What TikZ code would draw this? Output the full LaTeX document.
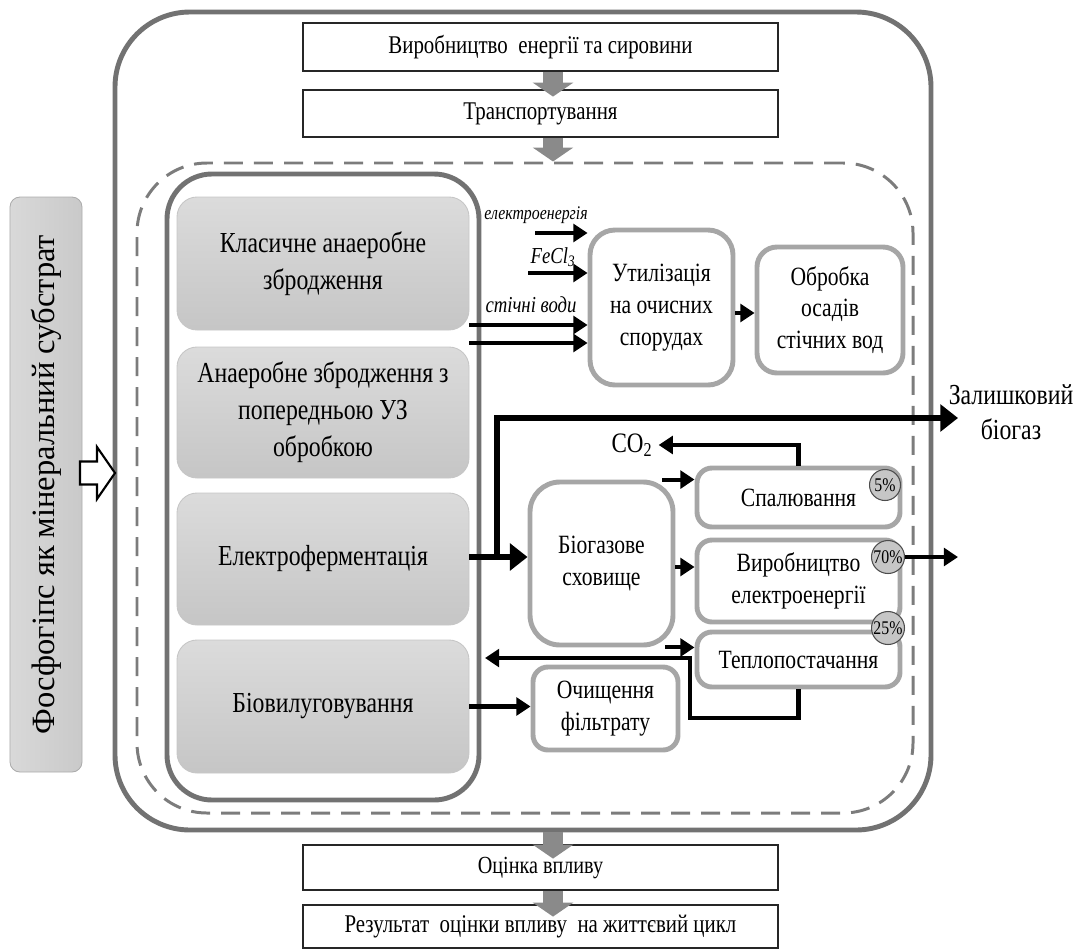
\documentclass[tikz,border=0pt]{standalone}
\usepackage{fontspec}
\setmainfont{Liberation Serif}
\newfontfamily\narrowserif{Liberation Serif}[FakeStretch=0.82]
\usetikzlibrary{arrows.meta}

\definecolor{framegray}{HTML}{727272}
\definecolor{dashgray}{HTML}{7C7C7C}
\definecolor{unitgray}{HTML}{A6A6A6}
\definecolor{stagegray}{HTML}{8A8A8A}

\begin{document}
\begin{tikzpicture}[
  bigframe/.style={draw=framegray, line width=2.8pt, rounded corners=1.5cm},
  stage/.style={draw=black!85, line width=1.6pt, fill=white, minimum width=9.5cm, font=\narrowserif\fontsize{14.5}{17}\selectfont},
  process/.style={draw=gray!45, line width=0.5pt, top color=gray!28, bottom color=gray!45, rounded corners=0.4cm, minimum width=5.84cm, align=center, font=\narrowserif\fontsize{16.5}{21}\selectfont},
  unitbox/.style={draw=unitgray, line width=2.8pt, fill=white, rounded corners=0.4cm, align=center, font=\narrowserif\fontsize{15}{18}\selectfont},
  share/.style={circle, draw=black!70, line width=0.6pt, fill=gray!45, minimum size=0.62cm, inner sep=0pt, font=\narrowserif\fontsize{11}{11}\selectfont},
  flow/.style={line width=2.3pt, -{Triangle[length=8pt, width=10pt]}},
  mainflow/.style={line width=3.4pt, -{Triangle[length=10pt, width=15pt]}},
  stagearrow/.style={color=stagegray, line width=0.4cm, -{Triangle[length=0.28cm, width=0.8cm]}},
  inlabel/.style={font=\narrowserif\itshape\fontsize{13}{13}\selectfont}
]
\useasboundingbox (0, 0) rectangle (21.68, -19.02);

% life cycle frame, plant frame and digestion block
\node[bigframe, minimum width=16.32cm, minimum height=16.36cm] (lca frame) at (10.46, -8.42) {};
\node[bigframe, draw=dashgray, line width=1.7pt, dash pattern=on 0.38cm off 0.22cm, rounded corners=1.4cm, minimum width=15.52cm, minimum height=13cm] (plant frame) at (10.5, -9.76) {};
\node[bigframe, rounded corners=0.9cm, minimum width=6.24cm, minimum height=12.52cm] (digestion) at (6.46, -9.74) {};

% stages before and after
\node[stage, minimum height=0.96cm] (energy) at (10.81, -0.94) {Виробництво\ \ енергії та сировини};
\node[stage, minimum height=0.94cm] (transport) at (10.81, -2.27) {Транспортування};
\node[stage, minimum height=0.9cm, font=\narrowserif\fontsize{14}{17}\selectfont] (impact) at (10.81, -17.35) {Оцінка впливу};
\node[stage, minimum height=0.86cm] (result) at (10.81, -18.53) {Результат\ \ оцінки впливу\ \ на життєвий цикл};

\coordinate (axis) at (11.06, 0);
\draw[stagearrow] (energy.south -| axis) -- ([yshift=-0.16cm]transport.north -| axis);
\draw[stagearrow] (transport.south -| axis) -- (plant frame.north -| axis);
\draw[stagearrow] (lca frame.south -| axis) -- ([yshift=-0.3cm]impact.north -| axis);
\draw[stagearrow] (impact.south -| axis) -- ([yshift=-0.26cm]result.north -| axis);

% substrate
\node[draw=gray!65, line width=0.5pt, left color=gray!30, right color=gray!42, rounded corners=0.2cm, rotate=90, minimum width=11.5cm, minimum height=1.44cm, font=\fontsize{18.5}{18.5}\selectfont] (phosphogypsum) at (0.92, -9.69) {Фосфогіпс як мінеральний субстрат};
\coordinate (feed) at (1.6, -9.46);
\draw[line width=1.2pt, fill=white] (feed) ++(0, 0.23) -- ++(0.34, 0) -- ++(0, 0.29) -- ++(0.36, -0.52) -- ++(-0.36, -0.52) -- ++(0, 0.29) -- ++(-0.34, 0) -- cycle;

% digestion variants
\node[process, minimum height=2.66cm] (classic) at (6.46, -5.27) {Класичне анаеробне\\збродження};
\node[process, minimum height=2.62cm] (ultrasound) at (6.46, -8.25) {Анаеробне збродження з\\попередньою УЗ\\обробкою};
\node[process, minimum height=2.64cm] (electro) at (6.46, -11.18) {Електроферментація};
\node[process, minimum height=2.66cm] (bioleaching) at (6.46, -14.13) {Біовилуговування};

% wastewater treatment
\node[unitbox, rounded corners=0.5cm, minimum width=2.86cm, minimum height=3.1cm] (utilization) at (13.23, -6.15) {Утилізація\\на очисних\\спорудах};
\node[unitbox, minimum width=2.92cm, minimum height=2.52cm] (sludge) at (16.6, -6.2) {Обробка\\осадів\\стічних вод};

\node[inlabel, font=\narrowserif\itshape\fontsize{11}{11}\selectfont] (electricity label) at (10.72, -4.3) {електроенергія};
\node[inlabel] (fecl label) at (11.06, -5.14) {FeCl\textsubscript{3}};
\node[inlabel] (wastewater label) at (10.62, -6.1) {стічні води};

\coordinate (electricity in) at (10.7, -4.66);
\coordinate (fecl in) at (10.56, -5.46);
\draw[flow] (electricity in) -- (electricity in -| utilization.west);
\draw[flow] (fecl in) -- (fecl in -| utilization.west);
\draw[flow] (classic.east |- 0, -6.5) -- (utilization.west |- 0, -6.5);
\draw[flow] (ultrasound.east |- 0, -6.86) -- (utilization.west |- 0, -6.86);
\draw[flow] (utilization.east |- 0, -6.26) -- (sludge.west |- 0, -6.26);

% biogas use
\node[unitbox, rounded corners=0.6cm, minimum width=2.86cm, minimum height=3.26cm] (storage) at (12.03, -11.27) {Біогазове\\сховище};
\node[unitbox, rounded corners=0.3cm, minimum width=4.06cm, minimum height=1.18cm] (burning) at (15.97, -9.95) {Спалювання};
\node[unitbox, rounded corners=0.3cm, minimum width=4.06cm, minimum height=1.64cm] (power) at (15.97, -11.62) {Виробництво\\електроенергії};
\node[unitbox, rounded corners=0.3cm, minimum width=4.06cm, minimum height=1.1cm] (heat) at (15.97, -13.19) {Теплопостачання};
\node[unitbox, rounded corners=0.3cm, minimum width=2.9cm, minimum height=1.66cm] (filtrate) at (12.11, -14.17) {Очищення\\фільтрату};

\node[share] (share burning) at (17.7, -9.7) {5\%};
\node[share, minimum size=0.66cm] (share power) at (17.76, -11.14) {70\%};
\node[share, minimum size=0.66cm] (share heat) at (17.76, -12.56) {25\%};

\node[font=\narrowserif\fontsize{16}{16}\selectfont] (co2) at (12.64, -8.9) {CO\textsubscript{2}};
\node[align=center, font=\narrowserif\fontsize{16.5}{20}\selectfont] (residual biogas) at (20.22, -8.24) {Залишковий\\біогаз};

\coordinate (branch) at (9.94, -11.14);
\coordinate (residual out) at (19.16, -8.36);
\coordinate (power out) at (19.16, -11.14);
\coordinate (heat bend) at (13.8, -14.36);
\coordinate (heat return) at (9.7, -13.16);

\draw[mainflow] (electro.east |- branch) -- (storage.west |- branch);
\draw[mainflow] (branch) |- (residual out);

\draw[flow] (burning.north) |- (co2.east);
\draw[flow] ([xshift=-0.26cm]storage.north east) -- (storage.north east -| burning.west);
\draw[flow] (storage.east |- 0, -11.34) -- (power.west |- 0, -11.34);
\draw[flow] ([xshift=-0.2cm]storage.south east) -- (storage.south east -| heat.west);
\draw[flow] (share power.east) -- (power out);
\draw[flow] (heat.south) |- (heat bend) |- (heat return);
\draw[flow] (bioleaching.east) -- (bioleaching.east -| filtrate.west);
\end{tikzpicture}
\end{document}
